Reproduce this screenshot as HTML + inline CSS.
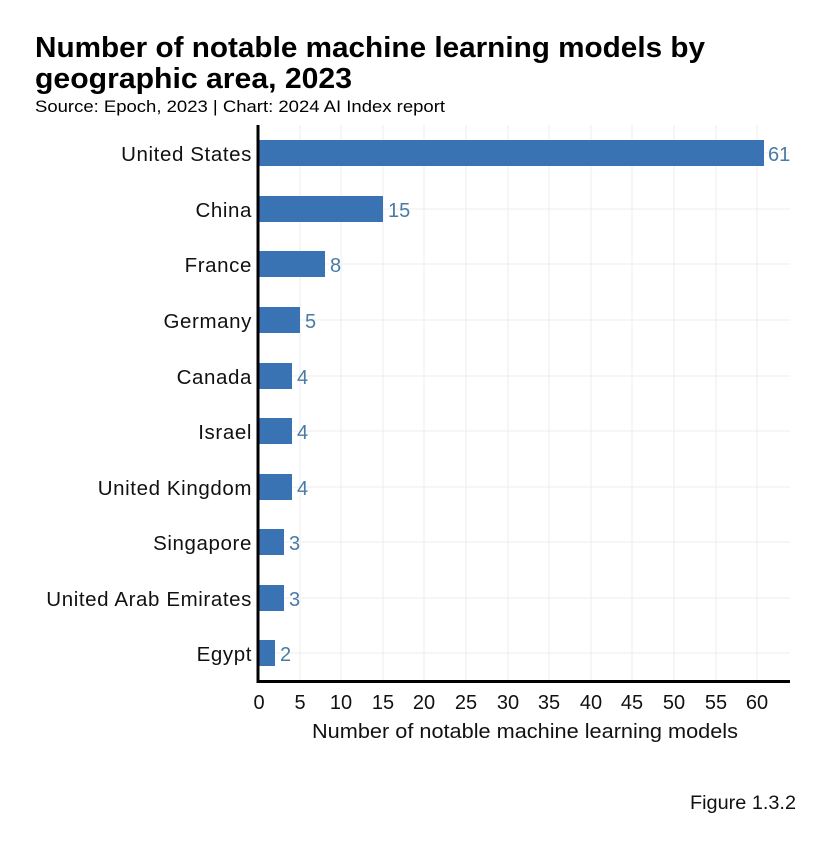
<!DOCTYPE html>
<html><head><meta charset="utf-8"><style>
body{margin:0;background:#fff;width:822px;height:836px;overflow:hidden;font-family:"Liberation Sans",sans-serif}
</style></head><body>
<svg width="822" height="836" xmlns="http://www.w3.org/2000/svg" font-family="Liberation Sans, sans-serif">
<text x="35" y="57" font-size="29" font-weight="bold" fill="#000" textLength="670" lengthAdjust="spacingAndGlyphs">Number of notable machine learning models by</text>
<text x="35" y="88" font-size="29" font-weight="bold" fill="#000" textLength="317" lengthAdjust="spacingAndGlyphs">geographic area, 2023</text>
<text x="35" y="112" font-size="17" fill="#000" textLength="410" lengthAdjust="spacingAndGlyphs">Source: Epoch, 2023 | Chart: 2024 AI Index report</text>
<g stroke="#ececec" stroke-width="1">
<line x1="300" y1="125" x2="300" y2="681"/><line x1="341" y1="125" x2="341" y2="681"/><line x1="383" y1="125" x2="383" y2="681"/><line x1="424" y1="125" x2="424" y2="681"/><line x1="466" y1="125" x2="466" y2="681"/><line x1="508" y1="125" x2="508" y2="681"/><line x1="549" y1="125" x2="549" y2="681"/><line x1="591" y1="125" x2="591" y2="681"/><line x1="632" y1="125" x2="632" y2="681"/><line x1="674" y1="125" x2="674" y2="681"/><line x1="716" y1="125" x2="716" y2="681"/><line x1="757" y1="125" x2="757" y2="681"/>
<line x1="258" y1="153" x2="790" y2="153"/><line x1="258" y1="209" x2="790" y2="209"/><line x1="258" y1="264" x2="790" y2="264"/><line x1="258" y1="320" x2="790" y2="320"/><line x1="258" y1="376" x2="790" y2="376"/><line x1="258" y1="431" x2="790" y2="431"/><line x1="258" y1="487" x2="790" y2="487"/><line x1="258" y1="542" x2="790" y2="542"/><line x1="258" y1="598" x2="790" y2="598"/><line x1="258" y1="653" x2="790" y2="653"/>
</g>
<g fill="#3a73b3">
<rect x="259" y="140" width="505" height="26"/>
<rect x="259" y="196" width="124" height="26"/>
<rect x="259" y="251" width="66" height="26"/>
<rect x="259" y="307" width="41" height="26"/>
<rect x="259" y="363" width="33" height="26"/>
<rect x="259" y="418" width="33" height="26"/>
<rect x="259" y="474" width="33" height="26"/>
<rect x="259" y="529" width="25" height="26"/>
<rect x="259" y="585" width="25" height="26"/>
<rect x="259" y="640" width="16" height="26"/>
</g>
<g fill="#4a7aa5" font-size="20">
<text x="768" y="161">61</text><text x="388" y="217">15</text><text x="330" y="272">8</text><text x="305" y="328">5</text><text x="297" y="384">4</text><text x="297" y="439">4</text><text x="297" y="495">4</text><text x="289" y="550">3</text><text x="289" y="606">3</text><text x="280" y="661">2</text>
</g>
<g fill="#111" font-size="20.5" text-anchor="end" letter-spacing="0.6">
<text x="252" y="161">United States</text><text x="252" y="217">China</text><text x="252" y="272">France</text><text x="252" y="328">Germany</text><text x="252" y="384">Canada</text><text x="252" y="439">Israel</text><text x="252" y="495">United Kingdom</text><text x="252" y="550">Singapore</text><text x="252" y="606">United Arab Emirates</text><text x="252" y="661">Egypt</text>
</g>
<line x1="258" y1="125" x2="258" y2="683" stroke="#000" stroke-width="3"/>
<line x1="257" y1="681.5" x2="790" y2="681.5" stroke="#000" stroke-width="3"/>
<g fill="#111" font-size="20" text-anchor="middle">
<text x="259" y="709">0</text><text x="300" y="709">5</text><text x="341" y="709">10</text><text x="383" y="709">15</text><text x="424" y="709">20</text><text x="466" y="709">25</text><text x="508" y="709">30</text><text x="549" y="709">35</text><text x="591" y="709">40</text><text x="632" y="709">45</text><text x="674" y="709">50</text><text x="716" y="709">55</text><text x="757" y="709">60</text>
</g>
<text x="312" y="738" font-size="20" fill="#111" textLength="426" lengthAdjust="spacingAndGlyphs">Number of notable machine learning models</text>
<text x="690" y="809" font-size="19" fill="#111" textLength="106" lengthAdjust="spacingAndGlyphs">Figure 1.3.2</text>
</svg>
</body></html>
